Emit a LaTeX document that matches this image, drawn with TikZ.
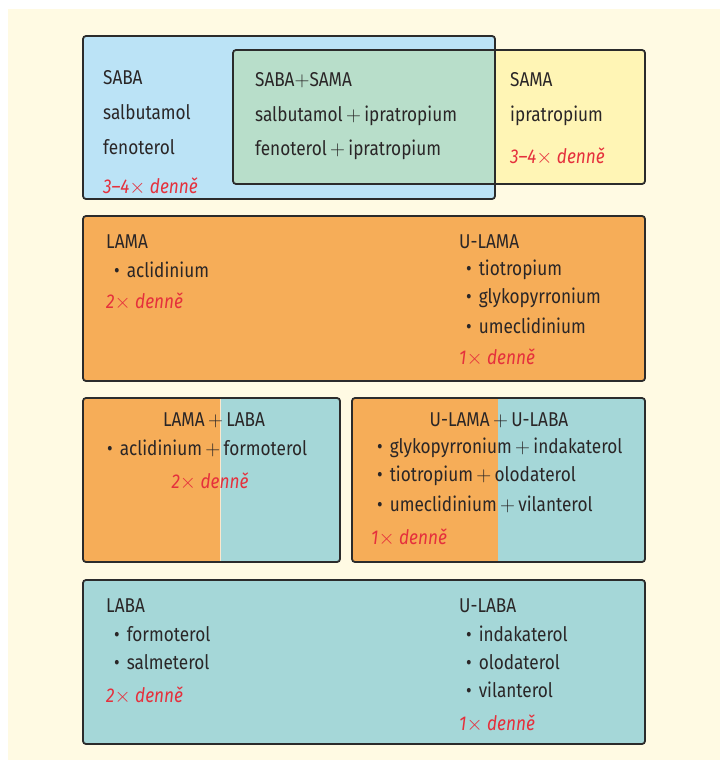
\documentclass[tikz,border=0pt]{standalone}
\usepackage{fontspec}
\setmainfont[FakeStretch=0.86]{Fira Sans}
\definecolor{cream}{HTML}{FFFAE3}
\definecolor{sabablue}{HTML}{BBE3F6}
\definecolor{samayellow}{HTML}{FFF5B5}
\definecolor{mixgreen}{HTML}{B8DECA}
\definecolor{lamaorange}{HTML}{F6AD58}
\definecolor{labateal}{HTML}{A5D7D8}
\definecolor{txt}{HTML}{2A2627}
\definecolor{dred}{HTML}{E5303C}
\definecolor{edge}{HTML}{2B2B2B}
\newcommand{\tms}{{\upshape$\times$}}
\newcommand{\pls}{\,$+$\,}
\begin{document}
\begin{tikzpicture}[x=1pt,y=-1pt,
  frame/.style={draw=edge,line width=1.8pt,rounded corners=3pt},
  lbl/.style={anchor=west,inner sep=0pt,text=txt,font=\fontsize{20}{22}\selectfont},
  freq/.style={anchor=west,inner sep=0pt,text=dred,font=\fontsize{20}{22}\selectfont\itshape},
  itm/.style={anchor=west,inner sep=0pt,text=txt,font=\fontsize{20}{22}\selectfont}]
\useasboundingbox (0,0) rectangle (720,760);
\fill[cream] (8,9) rectangle (720,760);
% Row 1
\fill[sabablue,rounded corners=3pt] (83,36) rectangle (495,199);
\fill[samayellow,rounded corners=3pt] (233,50) rectangle (645,184);
\fill[mixgreen] (233,50) rectangle (495,184);
\draw[frame] (83,36) rectangle (495,199);
\draw[frame] (233,50) rectangle (645,184);
\node[lbl] (saba) at (103,78) {SABA};
\node[lbl] (saba1) at (103,112) {salbutamol};
\node[lbl] (saba2) at (103,147) {fenoterol};
\node[freq] (sabaf) at (103,187) {3–4\tms\ denně};
\node[lbl] (mix) at (255,80) {SABA$+$SAMA};
\node[lbl] (mix1) at (255,116) {salbutamol\pls ipratropium};
\node[lbl] (mix2) at (255,150) {fenoterol\pls ipratropium};
\node[lbl] (sama) at (510,80) {SAMA};
\node[lbl] (sama1) at (510,116) {ipratropium};
\node[freq] (samaf) at (510,157) {3–4\tms\ denně};
% Row 2
\fill[lamaorange,rounded corners=3pt] (83,216) rectangle (645,381);
\draw[frame] (83,216) rectangle (645,381);
\node[lbl] (lama) at (106,242) {LAMA};
\node[itm] (lama1) at (114,270) {•\hspace{7pt}aclidinium};
\node[freq] (lamaf) at (106,302) {2\tms\ denně};
\node[lbl] (ulama) at (459,242) {U-LAMA};
\node[itm] (ulama1) at (466,270) {•\hspace{7pt}tiotropium};
\node[itm] (ulama2) at (466,298) {•\hspace{7pt}glykopyrronium};
\node[itm] (ulama3) at (466,326) {•\hspace{7pt}umeclidinium};
\node[freq] (ulamaf) at (459,358) {1\tms\ denně};
% Row 3 left
\fill[lamaorange,rounded corners=3pt] (83,398) rectangle (225,562);
\fill[labateal,rounded corners=3pt] (215,398) rectangle (340,562);
\fill[lamaorange] (215,398) rectangle (220,562);
\draw[white!70!lamaorange,line width=0.6pt] (220.3,399) -- (220.3,561);
\draw[frame] (83,398) rectangle (340,562);
\node[lbl,anchor=center] (combo) at (214,420) {LAMA\pls LABA};
\node[itm] (combo1) at (107,448) {•\hspace{7pt}aclidinium\pls formoterol};
\node[freq,anchor=center] (combof) at (210,482) {2\tms\ denně};
% Row 3 right
\fill[lamaorange,rounded corners=3pt] (352,398) rectangle (503,562);
\fill[labateal,rounded corners=3pt] (493,398) rectangle (645,562);
\fill[lamaorange] (493,398) rectangle (498,562);
\draw[frame] (352,398) rectangle (645,562);
\node[lbl,anchor=center] (ucombo) at (499,420) {U-LAMA\pls U-LABA};
\node[itm] (ucombo1) at (377,448) {•\hspace{7pt}glykopyrronium\pls indakaterol};
\node[itm] (ucombo2) at (377,476) {•\hspace{7pt}tiotropium\pls olodaterol};
\node[itm] (ucombo3) at (377,504) {•\hspace{7pt}umeclidinium\pls vilanterol};
\node[freq] (ucombof) at (371,538) {1\tms\ denně};
% Row 4
\fill[labateal,rounded corners=3pt] (83,580) rectangle (645,744);
\draw[frame] (83,580) rectangle (645,744);
\node[lbl] (laba) at (106,606) {LABA};
\node[itm] (laba1) at (114,634) {•\hspace{7pt}formoterol};
\node[itm] (laba2) at (114,662) {•\hspace{7pt}salmeterol};
\node[freq] (labaf) at (106,696) {2\tms\ denně};
\node[lbl] (ulaba) at (459,606) {U-LABA};
\node[itm] (ulaba1) at (466,634) {•\hspace{7pt}indakaterol};
\node[itm] (ulaba2) at (466,662) {•\hspace{7pt}olodaterol};
\node[itm] (ulaba3) at (466,690) {•\hspace{7pt}vilanterol};
\node[freq] (ulabaf) at (459,724) {1\tms\ denně};
\end{tikzpicture}
\end{document}
